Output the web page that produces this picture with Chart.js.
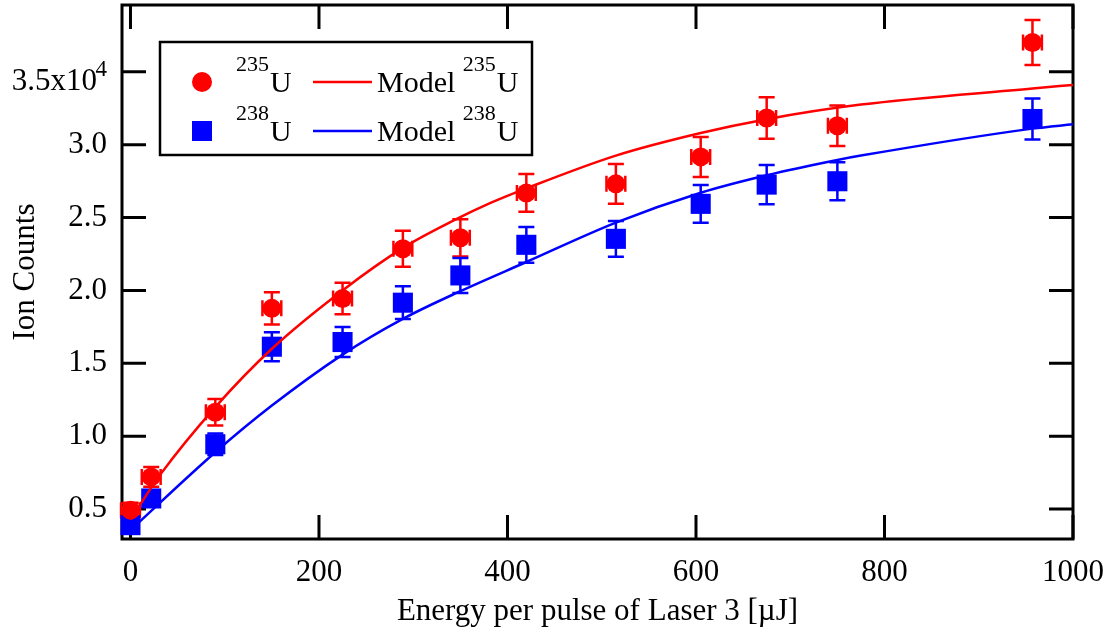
<!DOCTYPE html>
<html lang="en">

<head>
    <meta charset="UTF-8">
    <meta name="viewport" content="width=device-width, initial-scale=1.0">
    <title>Ion Counts vs Laser 3 energy</title>
    <style>
        html, body { margin: 0; padding: 0; background: #fff; }
    </style>
</head>

<body>
    <canvas id="ionChart" width="1110" height="635"></canvas>

    <script src="https://cdn.jsdelivr.net/npm/chart.js"></script>
    <script>
        // measured points (energy in uJ, counts)
        const energy = [0, 22, 90, 150, 225, 289, 350, 420, 515, 605, 675, 750, 957];
        const energyErr = [10, 10, 10, 10, 10, 10, 10, 10, 10, 10, 10, 10, 10];
        const counts235 = [4930, 7210, 11640, 18770, 19450, 22860, 23610, 26690, 27310, 29160, 31830, 31300, 37010];
        const err235 = [500, 680, 910, 1100, 1080, 1230, 1280, 1300, 1360, 1370, 1430, 1390, 1540];
        const counts238 = [3900, 5730, 9450, 16140, 16460, 19160, 21030, 23130, 23540, 25940, 27260, 27490, 31760];
        const err238 = [400, 550, 740, 1000, 1030, 1120, 1200, 1230, 1230, 1300, 1340, 1300, 1400];

        // model curves
        const model235Energy = [0, 32, 90, 150, 225, 290, 343, 382, 420, 515, 605, 675, 775, 957, 1000];
        const model235Counts = [4300, 7400, 12000, 16000, 20000, 22950, 24800, 26000, 27000, 29250, 30800, 31750, 32750, 33850, 34100];
        const model238Energy = [0, 90, 150, 225, 289, 350, 420, 515, 605, 675, 750, 775, 957, 1000];
        const model238Counts = [3560, 8900, 12100, 15600, 18050, 19950, 21950, 24650, 26700, 27900, 28950, 29250, 31100, 31400];

        const xTicks = [0, 200, 400, 600, 800, 1000];
        const xTickLabels = ['0', '200', '400', '600', '800', '1000'];
        const yTicks = [5000, 10000, 15000, 20000, 25000, 30000, 35000];
        const yTickLabels = ['0.5', '1.0', '1.5', '2.0', '2.5', '3.0', '3.5x10'];
        const yExponent = '4';

        const RED = '#ff0000';
        const BLUE = '#0000ff';
        const SERIF = '"Liberation Serif", "Times New Roman", serif';

        const pts = (xs, ys) => xs.map((v, i) => ({ x: v, y: ys[i] }));

        // frame with inward ticks on all four sides
        const frame = {
            id: 'frame',
            beforeDatasetsDraw(chart) {
                const { ctx, chartArea: a, scales: { x, y } } = chart;
                const len = 24;
                ctx.save();
                ctx.strokeStyle = '#000';
                ctx.lineWidth = 3;
                ctx.beginPath();
                xTicks.forEach(v => {
                    const px = x.getPixelForValue(v);
                    ctx.moveTo(px, a.bottom); ctx.lineTo(px, a.bottom - len);
                    ctx.moveTo(px, a.top); ctx.lineTo(px, a.top + len);
                });
                yTicks.forEach(v => {
                    const py = y.getPixelForValue(v);
                    ctx.moveTo(a.left, py); ctx.lineTo(a.left + len, py);
                    ctx.moveTo(a.right, py); ctx.lineTo(a.right - len, py);
                });
                ctx.stroke();
                ctx.strokeRect(a.left, a.top, a.right - a.left, a.bottom - a.top);
                ctx.restore();
            }
        };

        // y tick labels, with the x10^4 exponent on the top one
        const yLabels = {
            id: 'yLabels',
            afterDraw(chart) {
                const { ctx, chartArea: a, scales: { y } } = chart;
                ctx.save();
                ctx.fillStyle = '#000';
                ctx.textAlign = 'right';
                yTicks.forEach((v, i) => {
                    const py = y.getPixelForValue(v);
                    ctx.font = '31px ' + SERIF;
                    ctx.textBaseline = 'middle';
                    if (i === yTicks.length - 1) {
                        ctx.fillText(yTickLabels[i], a.left - 25, py + 10);
                        ctx.font = '23px ' + SERIF;
                        ctx.textBaseline = 'alphabetic';
                        ctx.fillText(yExponent, a.left - 15, py + 4);
                    } else {
                        ctx.fillText(yTickLabels[i], a.left - 15, py);
                    }
                });
                ctx.restore();
            }
        };

        const errorBars = {
            id: 'errorBars',
            beforeDatasetsDraw(chart) {
                const { ctx, scales: { x, y } } = chart;
                const cap = 8;
                ctx.save();
                ctx.lineWidth = 2.5;
                chart.data.datasets.forEach(ds => {
                    if (!ds.errY) return;
                    ctx.strokeStyle = ds.backgroundColor;
                    ctx.beginPath();
                    ds.data.forEach((p, i) => {
                        const px = x.getPixelForValue(p.x);
                        const py = y.getPixelForValue(p.y);
                        const t = y.getPixelForValue(p.y + ds.errY[i]);
                        const b = y.getPixelForValue(p.y - ds.errY[i]);
                        ctx.moveTo(px, t); ctx.lineTo(px, b);
                        ctx.moveTo(px - cap, t); ctx.lineTo(px + cap, t);
                        ctx.moveTo(px - cap, b); ctx.lineTo(px + cap, b);
                        if (ds.errX) {
                            const l = x.getPixelForValue(p.x - ds.errX[i]);
                            const r = x.getPixelForValue(p.x + ds.errX[i]);
                            ctx.moveTo(l, py); ctx.lineTo(r, py);
                            ctx.moveTo(l, py - cap); ctx.lineTo(l, py + cap);
                            ctx.moveTo(r, py - cap); ctx.lineTo(r, py + cap);
                        }
                    });
                    ctx.stroke();
                });
                ctx.restore();
            }
        };

        // legend box: marker, isotope, model line, "Model" isotope
        const isoLegend = {
            id: 'isoLegend',
            afterDatasetsDraw(chart) {
                const { ctx } = chart;
                const ds = chart.data.datasets;
                const rows = [
                    { pts: ds[2], line: ds[0], rowY: 82 },
                    { pts: ds[3], line: ds[1], rowY: 131 }
                ];
                ctx.save();
                ctx.fillStyle = '#fff';
                ctx.fillRect(160, 42, 372, 113);
                ctx.strokeStyle = '#000';
                ctx.lineWidth = 2.5;
                ctx.strokeRect(160, 42, 372, 113);

                const iso = (mass, x0, base) => {
                    ctx.fillStyle = '#000';
                    ctx.textBaseline = 'alphabetic';
                    ctx.textAlign = 'left';
                    ctx.font = '22px ' + SERIF;
                    ctx.fillText(mass, x0, base - 21);
                    const w = ctx.measureText(mass).width;
                    ctx.font = '30px ' + SERIF;
                    ctx.fillText('U', x0 + w + 1, base);
                };

                rows.forEach(r => {
                    const cy = r.rowY;
                    const base = cy + 10;
                    ctx.fillStyle = r.pts.backgroundColor;
                    ctx.beginPath();
                    if (r.pts.pointStyle === 'rect') {
                        ctx.rect(192, cy - 10, 20, 20);
                    } else {
                        ctx.arc(202, cy, 10, 0, Math.PI * 2);
                    }
                    ctx.fill();
                    iso(r.pts.mass, 236, base);

                    ctx.strokeStyle = r.line.borderColor;
                    ctx.lineWidth = 2.5;
                    ctx.beginPath();
                    ctx.moveTo(313, cy); ctx.lineTo(372, cy);
                    ctx.stroke();

                    ctx.fillStyle = '#000';
                    ctx.font = '30px ' + SERIF;
                    ctx.fillText('Model', 377, base);
                    const mw = ctx.measureText('Model ').width;
                    iso(r.line.mass, 377 + mw, base);
                });
                ctx.restore();
            }
        };

        const config = {
            type: 'scatter',
            data: {
                datasets: [{
                    label: 'Model 235U',
                    mass: '235',
                    data: pts(model235Energy, model235Counts),
                    showLine: true,
                    borderColor: RED,
                    backgroundColor: RED,
                    borderWidth: 2.5,
                    pointRadius: 0,
                    cubicInterpolationMode: 'monotone'
                }, {
                    label: 'Model 238U',
                    mass: '238',
                    data: pts(model238Energy, model238Counts),
                    showLine: true,
                    borderColor: BLUE,
                    backgroundColor: BLUE,
                    borderWidth: 2.5,
                    pointRadius: 0,
                    cubicInterpolationMode: 'monotone'
                }, {
                    label: '235U',
                    mass: '235',
                    data: pts(energy, counts235),
                    errY: err235,
                    errX: energyErr,
                    backgroundColor: RED,
                    borderColor: RED,
                    pointStyle: 'circle',
                    pointRadius: 9.5,
                    pointBorderWidth: 0,
                    clip: false
                }, {
                    label: '238U',
                    mass: '238',
                    data: pts(energy, counts238),
                    errY: err238,
                    backgroundColor: BLUE,
                    borderColor: BLUE,
                    pointStyle: 'rect',
                    pointRadius: 14.2,
                    pointBorderWidth: 0,
                    clip: false
                }]
            },
            options: {
                responsive: false,
                animation: false,
                devicePixelRatio: 1,
                layout: {
                    autoPadding: false,
                    padding: { top: 5, right: 37, left: 0, bottom: 0 }
                },
                plugins: {
                    legend: { display: false },
                    tooltip: { enabled: false }
                },
                scales: {
                    x: {
                        type: 'linear',
                        min: -9,
                        max: 1000,
                        grid: { display: false, drawTicks: false },
                        border: { display: false },
                        afterBuildTicks: s => { s.ticks = xTicks.map(v => ({ value: v })); },
                        afterFit: s => { s.height = 96; s.paddingLeft = 0; s.paddingRight = 0; },
                        ticks: {
                            padding: 15,
                            color: '#000',
                            maxRotation: 0,
                            font: { family: SERIF, size: 31 },
                            callback: (v, i) => xTickLabels[i]
                        },
                        title: {
                            display: true,
                            text: 'Energy per pulse of Laser 3 [\u00b5J]',
                            color: '#000',
                            font: { family: SERIF, size: 31 },
                            padding: { top: 0, bottom: 5 }
                        }
                    },
                    y: {
                        type: 'linear',
                        min: 2950,
                        max: 39580,
                        grid: { display: false, drawTicks: false },
                        border: { display: false },
                        afterBuildTicks: s => { s.ticks = yTicks.map(v => ({ value: v })); },
                        afterFit: s => { s.width = 122; },
                        ticks: { display: false },
                        title: {
                            display: true,
                            text: 'Ion Counts',
                            color: '#000',
                            font: { family: SERIF, size: 31 },
                            padding: { top: 7, bottom: 0 }
                        }
                    }
                }
            },
            plugins: [frame, errorBars, isoLegend, yLabels]
        };

        const ionChart = new Chart(document.getElementById('ionChart'), config);
    </script>
</body>

</html>
